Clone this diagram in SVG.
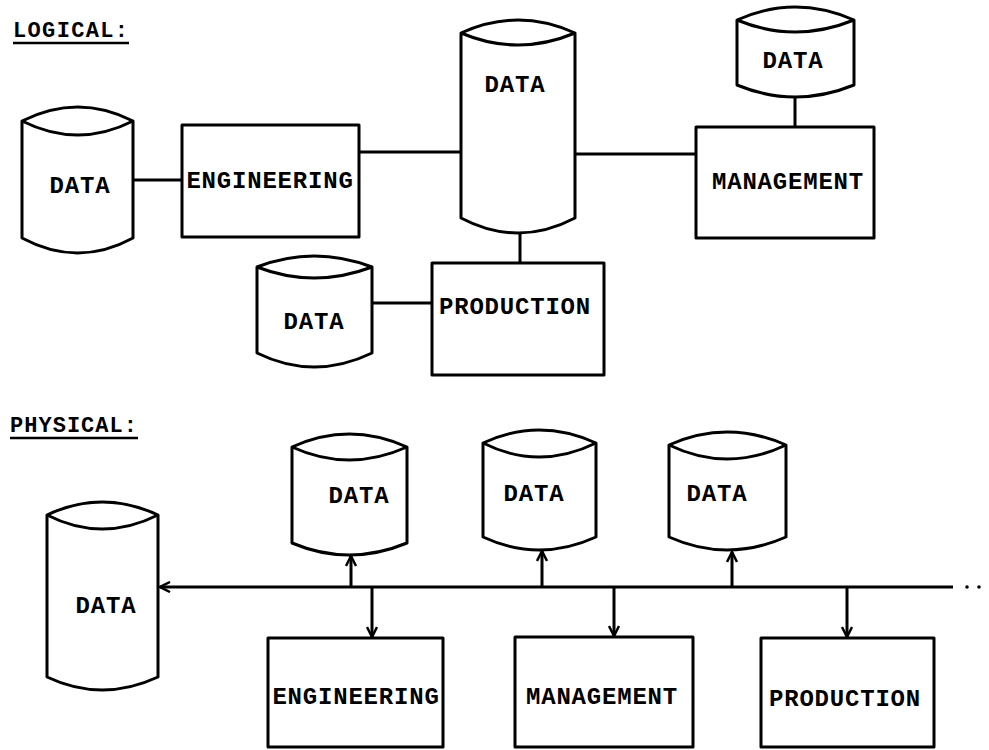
<svg xmlns="http://www.w3.org/2000/svg" width="989" height="750" viewBox="0 0 989 750">
  <style>
    .shape { fill: #fff; stroke: #000; stroke-width: 3; stroke-linejoin: round; }
    .rim { fill: none; stroke: #000; stroke-width: 3; }
    .wire { fill: none; stroke: #000; stroke-width: 3; }
    .lbl { font-family: "Liberation Mono", "Courier New", monospace; font-weight: bold; font-size: 24px; letter-spacing: 0.8px; fill: #000; text-anchor: middle; }
    .head { font-family: "Liberation Mono", "Courier New", monospace; font-weight: bold; font-size: 22px; fill: #000; }
  </style>
  <defs>
    <marker id="arrow" viewBox="0 0 12 12" refX="11" refY="6" markerWidth="12" markerHeight="12" markerUnits="userSpaceOnUse" orient="auto">
      <path d="M1,1 L11,6 L1,11" fill="none" stroke="#000" stroke-width="2.5"/>
    </marker>
  </defs>

  <rect width="989" height="750" fill="#fff"/>

  <!-- section headings -->
  <g id="heading-logical">
    <text class="head" x="13" y="37" textLength="115">LOGICAL:</text>
    <line x1="13" y1="43" x2="129" y2="43" stroke="#000" stroke-width="2.5"/>
  </g>
  <g id="heading-physical">
    <text class="head" x="10" y="432" textLength="127">PHYSICAL:</text>
    <line x1="10" y1="438" x2="138" y2="438" stroke="#000" stroke-width="2.5"/>
  </g>

  <!-- connectors -->
  <g id="connectors">
    <!-- logical -->
    <line class="wire" x1="133" y1="180" x2="182" y2="180"/>
    <line class="wire" x1="359" y1="152" x2="461" y2="152"/>
    <line class="wire" x1="575" y1="154" x2="696" y2="154"/>
    <line class="wire" x1="795" y1="97" x2="795" y2="127"/>
    <line class="wire" x1="520" y1="232" x2="520" y2="263"/>
    <line class="wire" x1="372" y1="303" x2="432" y2="303"/>
    <!-- physical bus -->
    <line class="wire" x1="953" y1="587" x2="160" y2="587" marker-end="url(#arrow)"/>
    <circle cx="967" cy="587" r="1.8" fill="#000"/>
    <circle cx="979" cy="587" r="1.8" fill="#000"/>
    <line class="wire" x1="351" y1="587" x2="351" y2="556" marker-end="url(#arrow)"/>
    <line class="wire" x1="542" y1="587" x2="542" y2="551" marker-end="url(#arrow)"/>
    <line class="wire" x1="732" y1="587" x2="732" y2="552" marker-end="url(#arrow)"/>
    <line class="wire" x1="372" y1="587" x2="372" y2="637" marker-end="url(#arrow)"/>
    <line class="wire" x1="614" y1="587" x2="614" y2="636" marker-end="url(#arrow)"/>
    <line class="wire" x1="847" y1="587" x2="847" y2="637" marker-end="url(#arrow)"/>
  </g>

  <!-- logical nodes -->
  <g id="log-data-eng">
    <path class="shape" d="M22,121 Q78,93 133,121 L133,238 Q78,268 22,238 Z"/>
    <path class="rim" d="M22,121 Q78,149 133,121"/>
    <text class="lbl" x="80" y="193">DATA</text>
  </g>
  <g id="log-engineering">
    <rect class="shape" x="182" y="125" width="177" height="112"/>
    <text class="lbl" x="270" y="188">ENGINEERING</text>
  </g>
  <g id="log-data-central">
    <path class="shape" d="M461,33 Q518,7 575,33 L575,218 Q518,248 461,218 Z"/>
    <path class="rim" d="M461,33 Q518,57 575,33"/>
    <text class="lbl" x="515" y="92">DATA</text>
  </g>
  <g id="log-data-mgmt">
    <path class="shape" d="M737,20 Q795,-6 854,20 L854,85 Q795,109 737,85 Z"/>
    <path class="rim" d="M737,20 Q795,44 854,20"/>
    <text class="lbl" x="793" y="68">DATA</text>
  </g>
  <g id="log-management">
    <rect class="shape" x="696" y="127" width="178" height="111"/>
    <text class="lbl" x="788" y="189">MANAGEMENT</text>
  </g>
  <g id="log-data-prod">
    <path class="shape" d="M257,267 Q314,245 372,267 L372,353 Q314,381 257,353 Z"/>
    <path class="rim" d="M257,267 Q314,289 372,267"/>
    <text class="lbl" x="314" y="329">DATA</text>
  </g>
  <g id="log-production">
    <rect class="shape" x="432" y="263" width="172" height="112"/>
    <text class="lbl" x="515" y="314">PRODUCTION</text>
  </g>

  <!-- physical nodes -->
  <g id="phy-data-main">
    <path class="shape" d="M47,515 Q102,489 158,515 L158,677 Q102,703 47,677 Z"/>
    <path class="rim" d="M47,515 Q102,543 158,515"/>
    <text class="lbl" x="106" y="613">DATA</text>
  </g>
  <g id="phy-data-1">
    <path class="shape" d="M292,447 Q349,421 407,447 L407,543 Q349,567 292,543 Z"/>
    <path class="rim" d="M292,447 Q349,473 407,447"/>
    <text class="lbl" x="359" y="503">DATA</text>
  </g>
  <g id="phy-data-2">
    <path class="shape" d="M483,443 Q539,417 596,443 L596,537 Q539,563 483,537 Z"/>
    <path class="rim" d="M483,443 Q539,471 596,443"/>
    <text class="lbl" x="534" y="501">DATA</text>
  </g>
  <g id="phy-data-3">
    <path class="shape" d="M669,445 Q727,419 786,445 L786,537 Q727,563 669,537 Z"/>
    <path class="rim" d="M669,445 Q727,473 786,445"/>
    <text class="lbl" x="717" y="501">DATA</text>
  </g>
  <g id="phy-engineering">
    <rect class="shape" x="268" y="638" width="175" height="109"/>
    <text class="lbl" x="356" y="704">ENGINEERING</text>
  </g>
  <g id="phy-management">
    <rect class="shape" x="515" y="637" width="178" height="110"/>
    <text class="lbl" x="602" y="704">MANAGEMENT</text>
  </g>
  <g id="phy-production">
    <rect class="shape" x="761" y="638" width="173" height="109"/>
    <text class="lbl" x="845" y="706">PRODUCTION</text>
  </g>
</svg>
